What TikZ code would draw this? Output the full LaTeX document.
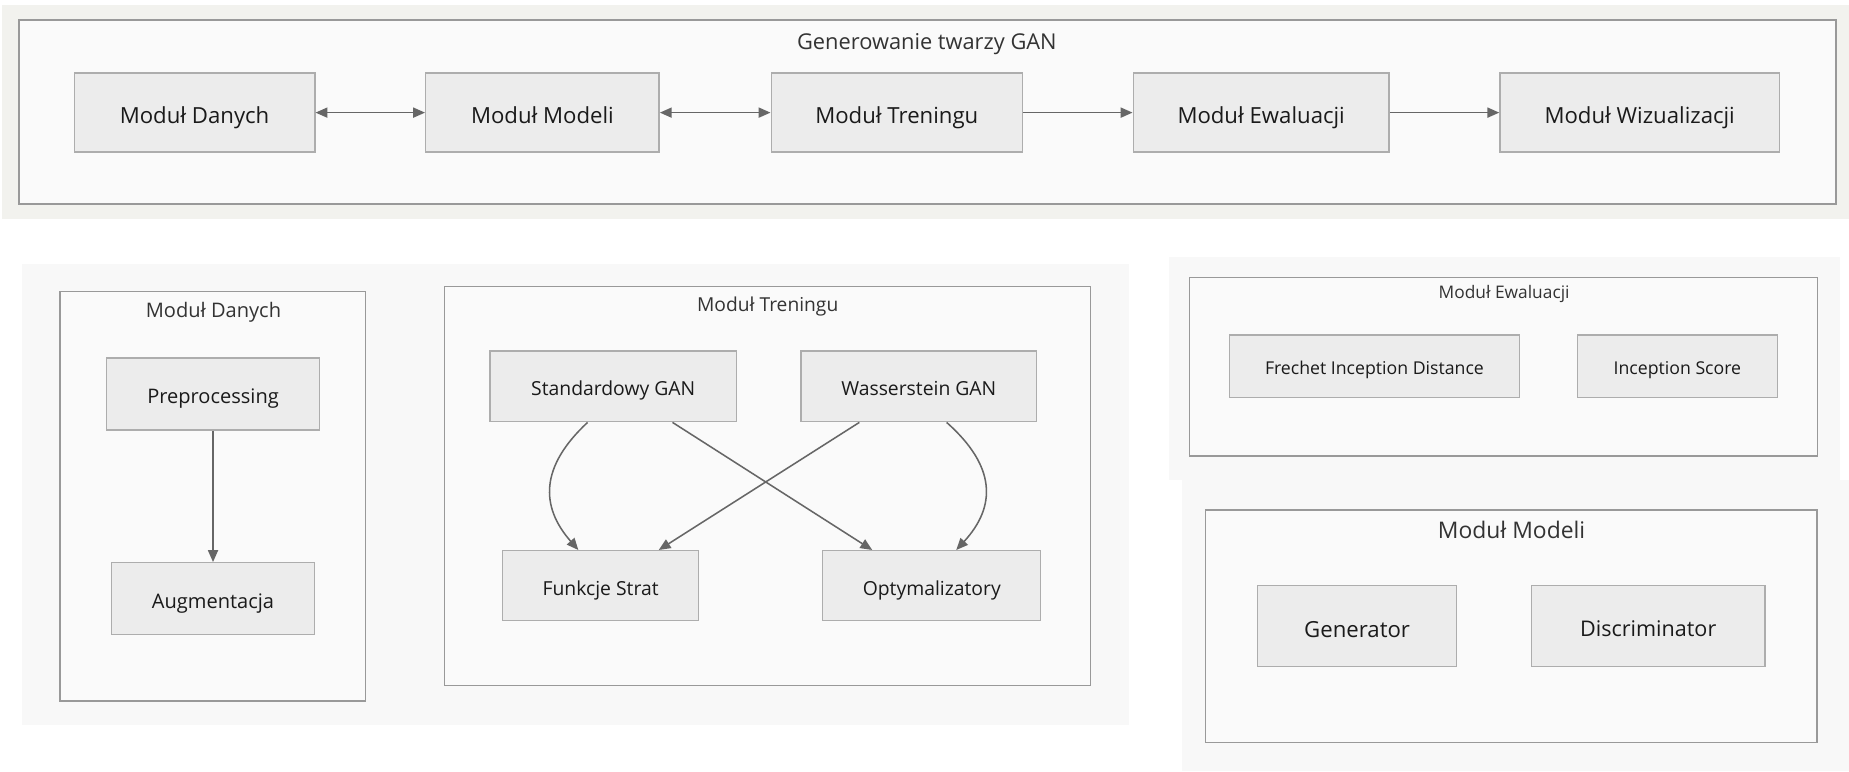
\documentclass[tikz,border=0pt]{standalone}
\usepackage{fontspec}
\setmainfont{Open Sans}
\usetikzlibrary{arrows.meta,calc}
\definecolor{bandbg}{HTML}{F2F2EE}
\definecolor{panelbg}{HTML}{F8F8F8}
\definecolor{clfill}{HTML}{FAFAFA}
\definecolor{clline}{HTML}{999999}
\definecolor{ndfill}{HTML}{ECECEC}
\definecolor{ndline}{HTML}{ADADAD}
\definecolor{edgecol}{HTML}{666666}
\definecolor{txt}{HTML}{1A1A1A}
\definecolor{ttlcol}{HTML}{333333}
\begin{document}
\begin{tikzpicture}[x=1pt,y=-1pt,
  cluster/.style={draw=clline, fill=clfill, line width=1.2pt, rectangle, inner sep=0},
  box/.style={draw=ndline, fill=ndfill, line width=1.2pt, rectangle, inner sep=0, text=txt, text depth=0pt},
  ttl/.style={text=ttlcol, inner sep=0, text depth=0pt},
  fs/.style={font=\fontsize{#1}{#1}\selectfont},
  conn/.style={draw=edgecol, line width=1.3pt, -{Triangle[length=10pt,width=8.5pt]}},
  conntwo/.style={draw=edgecol, line width=1.3pt, {Triangle[length=10pt,width=8.5pt]}-{Triangle[length=10pt,width=8.5pt]}}
]
\useasboundingbox (0,0) rectangle (1568,654);
\fill[white] (0,0) rectangle (1568,654);
% background panels
\fill[bandbg] (2,4) rectangle (1568,186);
\fill[panelbg] (19,224) rectangle (957,615);
\fill[panelbg] (991,218) rectangle (1560,407);
\fill[panelbg] (1002,407) rectangle (1568,654);

% top cluster
\node[cluster, minimum width=1541, minimum height=156] (ctop) at (786.5,95) {};
\node[ttl, fs=18.5, text height=13.3pt] (ttop) at (786,35) {Generowanie twarzy GAN};
\node[box, fs=18.8, text height=18.4pt, minimum width=204, minimum height=67] (tdan) at (165,95.5) {Moduł Danych};
\node[box, fs=18.8, text height=18.4pt, minimum width=198, minimum height=67] (tmod) at (460,95.5) {Moduł Modeli};
\node[box, fs=18.8, text height=18.4pt, minimum width=213, minimum height=67] (ttre) at (760.5,95.5) {Moduł Treningu};
\node[box, fs=18.8, text height=18.4pt, minimum width=217, minimum height=67] (tewa) at (1069.5,95.5) {Moduł Ewaluacji};
\node[box, fs=18.8, text height=18.4pt, minimum width=237, minimum height=67] (twiz) at (1390.5,95.5) {Moduł Wizualizacji};
\draw[conntwo] (tdan.east) -- (tmod.west);
\draw[conntwo] (tmod.east) -- (ttre.west);
\draw[conn] (ttre.east) -- (tewa.west);
\draw[conn] (tewa.east) -- (twiz.west);

% Modul Danych cluster
\node[cluster, minimum width=259, minimum height=347.5] (cdan) at (180.5,420.75) {};
\node[ttl, fs=17, text height=12.2pt] (tdanttl) at (181,263) {Moduł Danych};
\node[box, fs=17, text height=16.7pt, minimum width=180.3, minimum height=61] (pre) at (180.65,334.2) {Preprocessing};
\node[box, fs=17, text height=16.7pt, minimum width=171.9, minimum height=60.7] (aug) at (180.65,507.55) {Augmentacja};
\draw[conn] (pre.south) -- (aug.north);

% Modul Treningu cluster
\node[cluster, minimum width=548, minimum height=338.5] (ctre) at (651,412.25) {};
\node[ttl, fs=16.3, text height=11.7pt] (ttrettl) at (651,258) {Moduł Treningu};
\node[box, fs=16.4, text height=16.1pt, minimum width=208.8, minimum height=59.9] (std) at (520,327.65) {Standardowy GAN};
\node[box, fs=16.4, text height=16.1pt, minimum width=199.7, minimum height=59.9] (wgan) at (779.15,327.65) {Wasserstein GAN};
\node[box, fs=16.4, text height=16.1pt, minimum width=166.3, minimum height=59.4] (funk) at (509.35,496.7) {Funkcje Strat};
\node[box, fs=16.4, text height=16.1pt, minimum width=184.9, minimum height=59.4] (opt) at (790.15,496.7) {Optymalizatory};
\draw[conn] ([xshift=-21.7]std.south) .. controls +(-40.3,37.4) and +(-32.5,-37) .. ([xshift=-18.9]funk.north);
\draw[conn] ([xshift=50.3]std.south) -- ([xshift=-50.5]opt.north);
\draw[conn] ([xshift=-50.4]wgan.south) -- ([xshift=49.3]funk.north);
\draw[conn] ([xshift=23.6]wgan.south) .. controls +(42.2,37.4) and +(34,-37) .. ([xshift=20.8]opt.north);

% Modul Ewaluacji cluster
\node[cluster, minimum width=532.9, minimum height=151.5] (cewa) at (1275.05,310.95) {};
\node[ttl, fs=14.7, text height=10.6pt] (tewattl) at (1275.5,248.2) {Moduł Ewaluacji};
\node[box, fs=15, text height=14.7pt, minimum width=245.9, minimum height=53.2] (fid) at (1165.55,310.6) {Frechet Inception Distance};
\node[box, fs=15, text height=14.7pt, minimum width=169.5, minimum height=53.2] (isc) at (1422.45,310.6) {Inception Score};

% Modul Modeli cluster
\node[cluster, minimum width=518.7, minimum height=197] (cmod) at (1281.45,531) {};
\node[ttl, fs=19.4, text height=14pt] (tmodttl) at (1281.8,449.5) {Moduł Modeli};
\node[box, fs=18.8, text height=18.4pt, minimum width=168.9, minimum height=68.7] (gen) at (1150.85,531.05) {Generator};
\node[box, fs=18.3, text height=17.9pt, minimum width=198.2, minimum height=68.7] (disc) at (1397.7,531.05) {Discriminator};
\end{tikzpicture}
\end{document}
